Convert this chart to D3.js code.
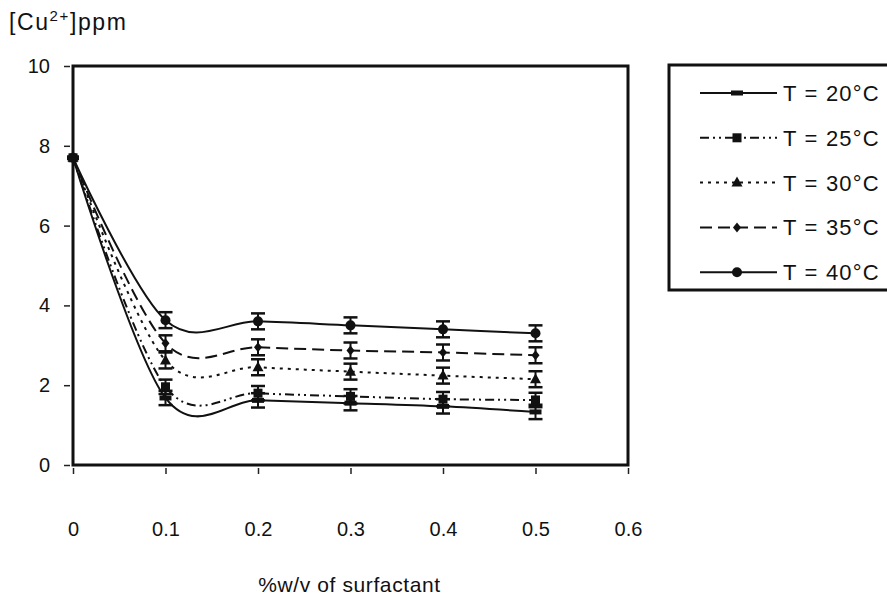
<!DOCTYPE html>
<html><head><meta charset="utf-8">
<script src="https://cdn.jsdelivr.net/npm/d3@7"></script>
<style>body{margin:0;background:#fff;} svg{display:block;font-family:"Liberation Sans",Arial,sans-serif;}</style>
</head><body>
<svg id="c" width="887" height="605"></svg>
<script>
const xValues = [0, 0.1, 0.2, 0.3, 0.4, 0.5];
const xTicks = [0, 0.1, 0.2, 0.3, 0.4, 0.5, 0.6];
const yTicks = [0, 2, 4, 6, 8, 10];
const seriesNames = ["T = 20°C", "T = 25°C", "T = 30°C", "T = 35°C", "T = 40°C"];
const t20 = [7.7, 1.68, 1.62, 1.55, 1.47, 1.33];
const t25 = [7.7, 1.96, 1.80, 1.72, 1.65, 1.63];
const t30 = [7.7, 2.62, 2.45, 2.34, 2.24, 2.15];
const t35 = [7.7, 3.05, 2.95, 2.87, 2.82, 2.75];
const t40 = [7.7, 3.63, 3.60, 3.50, 3.40, 3.30];
const err20 = [0, 0.18, 0.18, 0.18, 0.18, 0.18];
const err25 = [0, 0.18, 0.18, 0.18, 0.18, 0.18];
const err30 = [0, 0.2, 0.2, 0.2, 0.2, 0.2];
const err35 = [0, 0.2, 0.2, 0.2, 0.2, 0.2];
const err40 = [0, 0.2, 0.2, 0.2, 0.2, 0.2];

const series = [
  {name: seriesNames[0], vals: t20, err: err20, dash: null, marker: "bar"},
  {name: seriesNames[1], vals: t25, err: err25, dash: "9,4,2,4,2,4", marker: "square"},
  {name: seriesNames[2], vals: t30, err: err30, dash: "3,5", marker: "triangle"},
  {name: seriesNames[3], vals: t35, err: err35, dash: "12,6", marker: "diamond"},
  {name: seriesNames[4], vals: t40, err: err40, dash: null, marker: "circle"}
];

const svg = d3.select("#c");
const L = 73, R = 628, T = 66, B = 465;
const x = d3.scaleLinear().domain([0, 0.6]).range([L, R]);
const y = d3.scaleLinear().domain([0, 10]).range([B, T]);

// frame
svg.append("rect").attr("x", L).attr("y", T).attr("width", R - L).attr("height", B - T)
  .attr("fill", "none").attr("stroke", "#111").attr("stroke-width", 3);

// y axis
const yAx = svg.append("g").attr("transform", `translate(${L - 3},0)`)
  .call(d3.axisLeft(y).tickValues(yTicks).tickSize(6).tickPadding(14).tickFormat(d3.format("d")));
yAx.select(".domain").remove();
yAx.selectAll("line").attr("stroke", "#222").attr("stroke-width", 1.5);
yAx.selectAll("text").attr("font-size", 20).attr("fill", "#111").attr("font-family", "Liberation Sans, Arial, sans-serif");

// x axis
const xAx = svg.append("g").attr("transform", `translate(0,${B + 3})`)
  .call(d3.axisBottom(x).tickValues(xTicks).tickSize(6).tickPadding(48).tickFormat(d => d === 0 ? "0" : d3.format(".1f")(d)));
xAx.select(".domain").remove();
xAx.selectAll("line").attr("stroke", "#222").attr("stroke-width", 1.5);
xAx.selectAll("text").attr("font-size", 20).attr("fill", "#111").attr("font-family", "Liberation Sans, Arial, sans-serif");

// titles
svg.append("text").attr("x", (L + R) / 2 - 1).attr("y", 592).attr("text-anchor", "middle")
  .attr("font-size", 21).attr("letter-spacing", 0.6).attr("fill", "#111").text("%w/v of surfactant");
const yt = svg.append("text").attr("x", 9).attr("y", 30).attr("font-size", 23).attr("letter-spacing", 1.6).attr("fill", "#111");
yt.append("tspan").text("[Cu");
yt.append("tspan").attr("font-size", 15).attr("dy", -9).text("2+");
yt.append("tspan").attr("dy", 9).text("]ppm");

const line = d3.line().curve(d3.curveCardinal.tension(0)).x(d => x(d[0])).y(d => y(d[1]));

function drawMarker(g, type, cx, cy) {
  if (type === "circle") g.append("circle").attr("cx", cx).attr("cy", cy).attr("r", 5).attr("fill", "#111");
  else if (type === "square") g.append("rect").attr("x", cx - 4.5).attr("y", cy - 4.5).attr("width", 9).attr("height", 9).attr("fill", "#111");
  else if (type === "triangle") g.append("path").attr("d", `M${cx},${cy - 6}L${cx + 5.5},${cy + 4}L${cx - 5.5},${cy + 4}Z`).attr("fill", "#111");
  else if (type === "diamond") g.append("path").attr("d", `M${cx},${cy - 5}L${cx + 4},${cy}L${cx},${cy + 5}L${cx - 4},${cy}Z`).attr("fill", "#111");
  else if (type === "bar") g.append("rect").attr("x", cx - 6).attr("y", cy - 2.5).attr("width", 12).attr("height", 5).attr("fill", "#111");
}

series.forEach(s => {
  const pts = xValues.map((xv, i) => [xv, s.vals[i]]);
  const p = svg.append("path").datum(pts).attr("d", line).attr("fill", "none")
    .attr("stroke", "#111").attr("stroke-width", 2);
  if (s.dash) p.attr("stroke-dasharray", s.dash);
  const g = svg.append("g");
  pts.forEach((pt, i) => {
    const cx = x(pt[0]);
    const e = s.err[i];
    if (e > 0) {
      const y1 = y(pt[1] + e), y2 = y(pt[1] - e);
      g.append("line").attr("x1", cx).attr("x2", cx).attr("y1", y1).attr("y2", y2).attr("stroke", "#111").attr("stroke-width", 2);
      g.append("line").attr("x1", cx - 7).attr("x2", cx + 7).attr("y1", y1).attr("y2", y1).attr("stroke", "#111").attr("stroke-width", 2.5);
      g.append("line").attr("x1", cx - 7).attr("x2", cx + 7).attr("y1", y2).attr("y2", y2).attr("stroke", "#111").attr("stroke-width", 2.5);
    }
    drawMarker(g, s.marker, cx, y(pt[1]));
  });
});

// legend
const lg = svg.append("g");
lg.append("rect").attr("x", 669).attr("y", 65).attr("width", 240).attr("height", 225)
  .attr("fill", "#fff").attr("stroke", "#111").attr("stroke-width", 3);
series.forEach((s, i) => {
  const ly = 93 + i * 44.8;
  const l = lg.append("line").attr("x1", 700).attr("x2", 777).attr("y1", ly).attr("y2", ly)
    .attr("stroke", "#111").attr("stroke-width", 2);
  if (s.dash) l.attr("stroke-dasharray", s.dash);
  drawMarker(lg, s.marker, 737, ly);
  lg.append("text").attr("x", 783).attr("y", ly + 8).attr("font-size", 22).attr("letter-spacing", 1.2).attr("fill", "#111").text(s.name);
});
</script>
</body></html>
